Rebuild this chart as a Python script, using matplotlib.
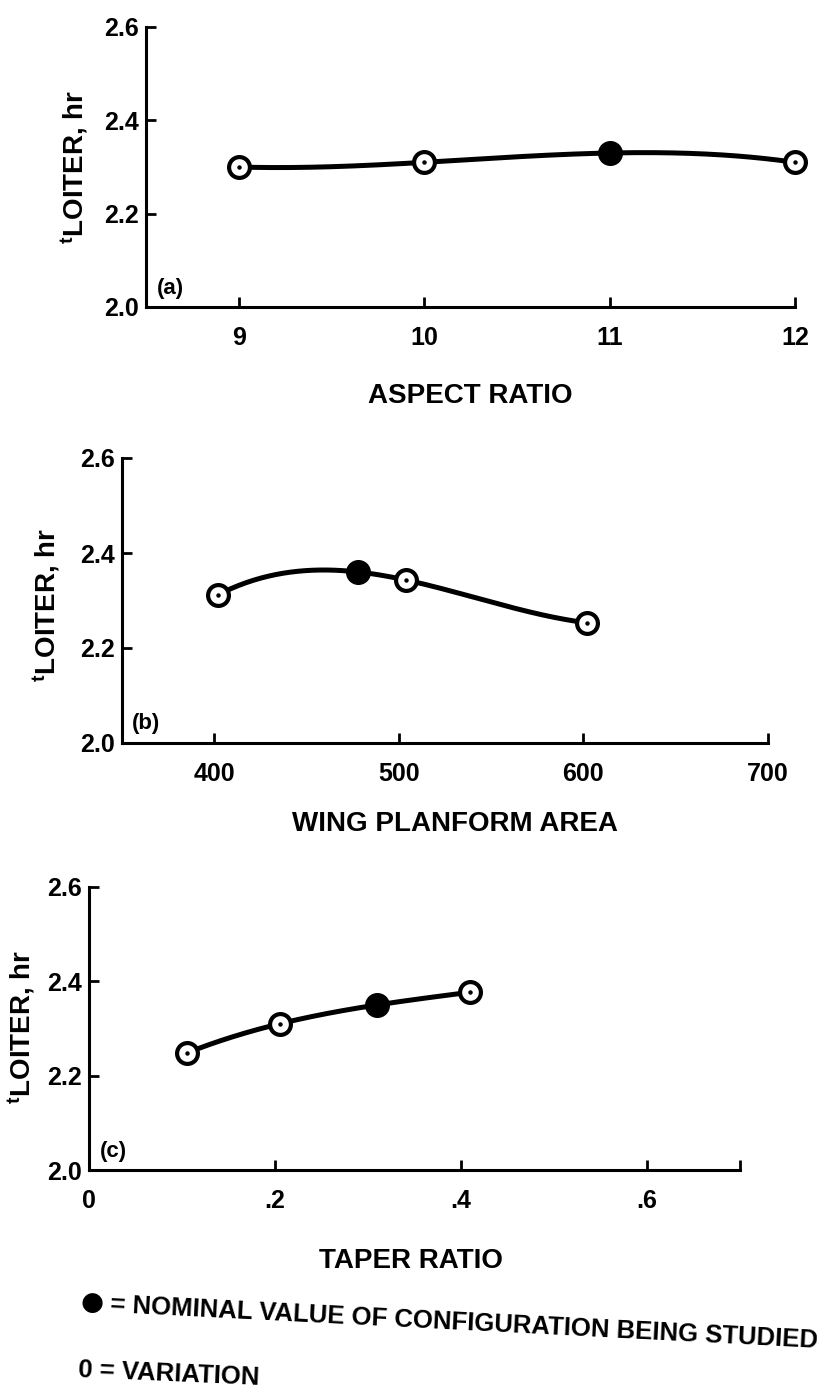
import matplotlib
matplotlib.use("Agg")
import matplotlib.pyplot as plt
import numpy as np

plt.rcParams['font.family'] = ['Liberation Sans', 'DejaVu Sans']
plt.rcParams['font.weight'] = 'bold'
plt.rcParams['mathtext.fontset'] = 'custom'
plt.rcParams['mathtext.rm'] = 'Liberation Sans:bold'
plt.rcParams['mathtext.it'] = 'Liberation Sans:bold'
plt.rcParams['mathtext.bf'] = 'Liberation Sans:bold'

# loiter time (hr) vs each wing parameter; nominal point flagged
aspect_ratio = [9, 10, 11, 12]
t_aspect = [2.30, 2.31, 2.33, 2.31]
nominal_aspect = [False, False, True, False]

planform_area = [402, 478, 504, 602]
t_area = [2.312, 2.36, 2.343, 2.253]
nominal_area = [False, True, False, False]

taper_ratio = [0.105, 0.205, 0.31, 0.41]
t_taper = [2.248, 2.31, 2.35, 2.377]
nominal_taper = [False, False, True, False]

panels = [
    dict(x=aspect_ratio, y=t_aspect, nom=nominal_aspect, xlim=(8.5, 12),
         xticks=[9, 10, 11, 12], xticklabels=['9', '10', '11', '12'],
         xlabel='ASPECT RATIO', tag='(a)',
         rect=[146/817, 1-307/1391, 649/817, 280/1391],
         xlab=(0.50, -0.27), ylab=(-0.086, 0.50)),
    dict(x=planform_area, y=t_area, nom=nominal_area, xlim=(350, 700),
         xticks=[400, 500, 600, 700], xticklabels=['400', '500', '600', '700'],
         xlabel='WING PLANFORM AREA', tag='(b)',
         rect=[122/817, 1-743/1391, 646/817, 285/1391],
         xlab=(0.515, -0.24), ylab=(-0.093, 0.484)),
    dict(x=taper_ratio, y=t_taper, nom=nominal_taper, xlim=(0, 0.7),
         xticks=[0, 0.2, 0.4, 0.6, 0.7], xticklabels=['0', '.2', '.4', '.6', ''],
         xlabel='TAPER RATIO', tag='(c)',
         rect=[89/817, 1-1170/1391, 651/817, 283/1391],
         xlab=(0.495, -0.275), ylab=(-0.080, 0.505)),
]

fig = plt.figure(figsize=(8.17, 13.91), dpi=100)

for p in panels:
    ax = fig.add_axes(p['rect'])
    x = np.array(p['x'], dtype=float)
    y = np.array(p['y'], dtype=float)

    # smooth curve through the points
    coef = np.polyfit(x, y, len(x) - 1)
    xs = np.linspace(x.min(), x.max(), 200)
    ax.plot(xs, np.polyval(coef, xs), color='black', lw=3.6,
            solid_capstyle='round', zorder=2, clip_on=False)

    nom = np.array(p['nom'])
    ax.plot(x[~nom], y[~nom], 'o', ms=15, mfc='white', mec='black', mew=3.0,
            zorder=3, clip_on=False)
    ax.plot(x[~nom], y[~nom], 'o', ms=2.2, color='black', zorder=4, clip_on=False)
    ax.plot(x[nom], y[nom], 'o', ms=17, color='black', zorder=4, clip_on=False)

    ax.set_xlim(*p['xlim'])
    ax.set_ylim(2.0, 2.6)
    ax.set_yticks([2.0, 2.2, 2.4, 2.6])
    ax.set_yticklabels(['2.0', '2.2', '2.4', '2.6'])
    ax.set_xticks(p['xticks'])
    ax.set_xticklabels(p['xticklabels'])

    for side in ['top', 'right']:
        ax.spines[side].set_visible(False)
    for side in ['left', 'bottom']:
        ax.spines[side].set_linewidth(2.2)
    ax.tick_params(direction='in', length=7, width=2.0, labelsize=18)
    ax.tick_params(axis='y', pad=5)
    ax.tick_params(axis='x', pad=14)

    ax.set_xlabel(p['xlabel'], fontsize=20, fontweight='bold')
    ax.xaxis.set_label_coords(*p['xlab'])
    ax.set_ylabel(r'$^{\mathregular{t}}$LOITER, hr', fontsize=20, fontweight='bold')
    ax.yaxis.set_label_coords(*p['ylab'])

    ax.text(0.016, 0.03, p['tag'], transform=ax.transAxes, fontsize=16,
            fontweight='bold', ha='left', va='bottom')

# key below the panels
fig.text(80/817, 1-1303/1391, '\u25cf', fontsize=19, family=['DejaVu Sans'],
         ha='left', va='center')
fig.text(110/817, 1-1305/1391, '= NOMINAL VALUE OF CONFIGURATION BEING STUDIED',
         fontsize=18.5, fontweight='bold', rotation=-2.9, rotation_mode='anchor',
         ha='left', va='center')
fig.text(78/817, 1-1370/1391, '0 = VARIATION', fontsize=18.5, fontweight='bold',
         rotation=-2.5, rotation_mode='anchor', ha='left', va='center')

fig.savefig('out.png', dpi=100)
